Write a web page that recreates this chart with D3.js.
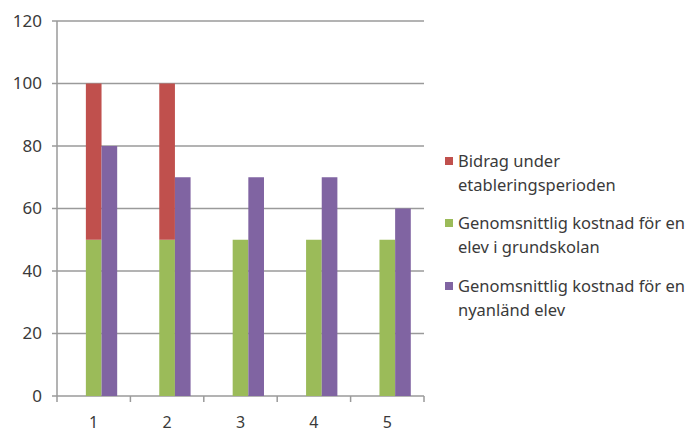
<!DOCTYPE html>
<html><head><meta charset="utf-8">
<script src="https://cdn.jsdelivr.net/npm/d3@7"></script>
<style>body{margin:0;background:#fff}svg{display:block}</style>
</head><body>
<svg id="c" width="691" height="432"></svg>
<script>
const categories = ["1","2","3","4","5"];
const grundskola = [50,50,50,50,50];
const bidrag = [50,50,0,0,0];
const nyanland = [80,70,70,70,60];
const yTicks = [0,20,40,60,80,100,120];
const seriesNames = ["Bidrag under etableringsperioden","Genomsnittlig kostnad för en elev i grundskolan","Genomsnittlig kostnad för en nyanländ elev"];
const legendLines = [["Bidrag under","etableringsperioden"],["Genomsnittlig kostnad för en","elev i grundskolan"],["Genomsnittlig kostnad för en","nyanländ elev"]];
const colors = ["#C0504D","#9BBB59","#8064A2"];

const svg = d3.select("#c");
const L=57,R=424,T=21,B=396;
const font="'Noto Sans', sans-serif";
const x = d3.scaleBand().domain(categories).range([L,R]).paddingInner(0.36).paddingOuter(0.18);
const xs = d3.scaleBand().domain(["empty","stack","purple"]).range([0,x.bandwidth()]);
const y = d3.scaleLinear().domain([0,120]).range([B,T]);
const gridCol="#9a9a9a", textCol="#3a3a3a";

// gridlines
svg.append("g").selectAll("line").data(yTicks).join("line")
  .attr("x1",L-5).attr("x2",R).attr("y1",d=>y(d)).attr("y2",d=>y(d))
  .attr("stroke",gridCol).attr("stroke-width",1.5);
// y labels
svg.append("g").selectAll("text").data(yTicks).join("text")
  .attr("x",42).attr("y",d=>y(d)).attr("dy","0.35em").attr("text-anchor","end")
  .attr("font-family",font).attr("font-size",17).attr("fill",textCol).text(d=>d);
// y axis line
svg.append("line").attr("x1",L).attr("x2",L).attr("y1",T).attr("y2",B).attr("stroke",gridCol).attr("stroke-width",1.5);
// x tick marks (band boundaries)
const xTickPos=[L].concat(categories.map(c=>x(c)+x.bandwidth()+x.step()*x.paddingInner()/2));
svg.append("g").selectAll("line").data(xTickPos).join("line")
  .attr("x1",d=>d).attr("x2",d=>d).attr("y1",B).attr("y2",B+6)
  .attr("stroke",gridCol).attr("stroke-width",1.5);
// x labels
svg.append("g").selectAll("text").data(categories).join("text")
  .attr("x",d=>x(d)+x.bandwidth()/2).attr("y",422).attr("dy","0.35em").attr("text-anchor","middle")
  .attr("font-family",font).attr("font-size",16).attr("fill",textCol).text(d=>d);

// bars
const g = svg.append("g");
g.selectAll(".gr").data(categories).join("rect")
  .attr("x",(d)=>x(d)+xs("stack")).attr("width",xs.bandwidth())
  .attr("y",(d,i)=>y(grundskola[i])).attr("height",(d,i)=>y(0)-y(grundskola[i])).attr("fill",colors[1]);
g.selectAll(".bi").data(categories).join("rect")
  .attr("x",(d)=>x(d)+xs("stack")).attr("width",xs.bandwidth())
  .attr("y",(d,i)=>y(grundskola[i]+bidrag[i])).attr("height",(d,i)=>y(grundskola[i])-y(grundskola[i]+bidrag[i])).attr("fill",colors[0]);
g.selectAll(".ny").data(categories).join("rect")
  .attr("x",(d)=>x(d)+xs("purple")).attr("width",xs.bandwidth())
  .attr("y",(d,i)=>y(nyanland[i])).attr("height",(d,i)=>y(0)-y(nyanland[i])).attr("fill",colors[2]);

// legend
const legY=[161,223,286];
const lg = svg.append("g");
legendLines.forEach((lines,i)=>{
  lg.append("rect").attr("x",445).attr("y",legY[i]-4).attr("width",8).attr("height",8).attr("fill",colors[i]);
  lines.forEach((t,j)=>{
    lg.append("text").attr("x",458).attr("y",legY[i]+j*24).attr("dy","0.35em")
      .attr("font-family",font).attr("font-size",16.5).attr("fill",textCol).text(t);
  });
});
</script>
</body></html>
